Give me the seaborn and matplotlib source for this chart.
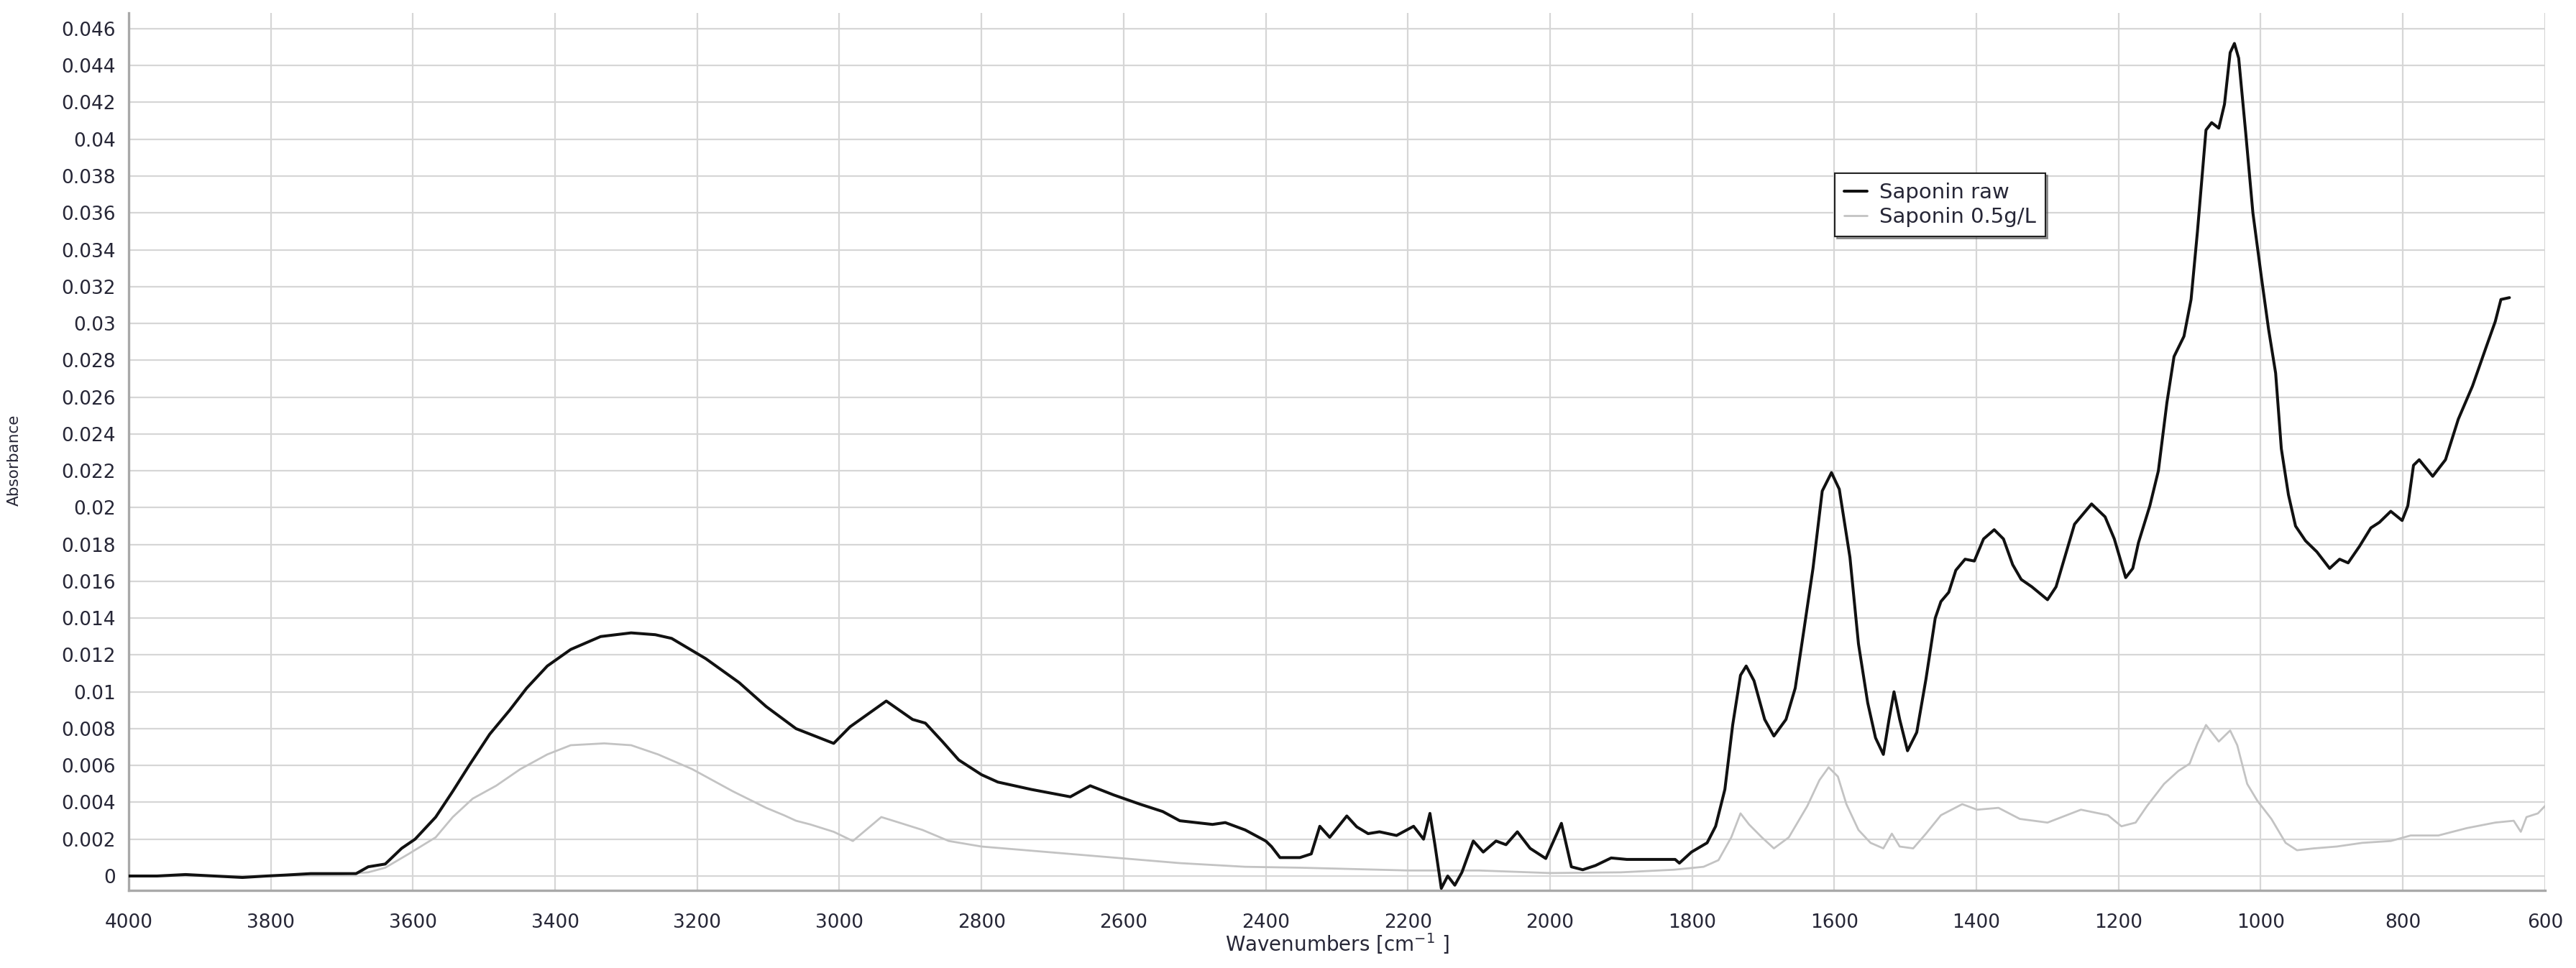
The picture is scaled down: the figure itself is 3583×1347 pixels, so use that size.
import matplotlib
matplotlib.use("Agg")
import matplotlib.pyplot as plt
from matplotlib.ticker import MultipleLocator, FuncFormatter
import seaborn as sns
import pandas as pd

# ----------------------------
# FTIR spectra
# ----------------------------
raw_wn = [4000, 3960, 3920, 3880, 3840, 3806, 3780, 3744, 3711, 3680, 3663, 3639, 3616, 3597,
          3568, 3544, 3521, 3492, 3464, 3440, 3411, 3378, 3336, 3293, 3259, 3236, 3188, 3141,
          3103, 3061, 3041, 3008, 2985, 2934, 2897, 2879, 2855, 2832, 2800, 2777, 2730, 2675,
          2647, 2614, 2577, 2545, 2521, 2475, 2457, 2429, 2400, 2392, 2380, 2352, 2336, 2324,
          2310, 2286, 2272, 2256, 2240, 2216, 2192, 2178, 2169, 2162, 2153, 2144, 2134, 2124,
          2108, 2094, 2076, 2062, 2046, 2028, 2006, 1984, 1970, 1954, 1936, 1914, 1892, 1824,
          1818, 1801, 1779, 1767, 1754, 1743, 1732, 1724, 1713, 1698, 1685, 1668, 1655, 1643,
          1630, 1617, 1604, 1593, 1578, 1566, 1553, 1542, 1531, 1523, 1516, 1508, 1497, 1484,
          1471, 1458, 1450, 1439, 1429, 1416, 1403, 1390, 1375, 1362, 1349, 1337, 1322, 1300,
          1288, 1275, 1262, 1238, 1219, 1206, 1190, 1180, 1172, 1156, 1144, 1132, 1122, 1108,
          1098, 1089, 1077, 1069, 1059, 1051, 1043, 1037, 1031, 1021, 1011, 999, 989, 979, 971,
          961, 951, 937, 921, 903, 889, 877, 861, 845, 833, 817, 801, 793, 785, 777, 758, 740,
          722, 702, 682, 670, 662, 650]
raw_abs = [0.0, 0.0, 0.00008, 0.0, -0.00008, 0.0, 0.00005, 0.00013, 0.00013, 0.00013, 0.0005,
           0.00065, 0.0015, 0.002, 0.0032, 0.0046, 0.006, 0.0077, 0.009, 0.0102, 0.0114, 0.0123,
           0.013, 0.0132, 0.0131, 0.0129, 0.0118, 0.0105, 0.0092, 0.008, 0.0077, 0.0072, 0.0081,
           0.0095, 0.0085, 0.0083, 0.0073, 0.0063, 0.0055, 0.0051, 0.0047, 0.0043, 0.0049,
           0.0044, 0.0039, 0.0035, 0.003, 0.0028, 0.0029, 0.0025, 0.0019, 0.0016, 0.001, 0.001,
           0.0012, 0.0027, 0.0021, 0.00326, 0.00267, 0.0023, 0.0024, 0.0022, 0.0027, 0.002,
           0.0034, 0.0017, -0.00067, 0.0, -0.0005, 0.0002, 0.0019, 0.0013, 0.0019, 0.0017,
           0.0024, 0.0015, 0.00095, 0.00286, 0.0005, 0.00034, 0.00057, 0.00098, 0.0009, 0.0009,
           0.0007, 0.0013, 0.0018, 0.0027, 0.0047, 0.0082, 0.0109, 0.0114, 0.0106, 0.0085,
           0.0076, 0.0085, 0.0102, 0.0133, 0.0167, 0.0209, 0.0219, 0.021, 0.0173, 0.0126,
           0.0094, 0.0075, 0.0066, 0.0085, 0.01, 0.0085, 0.0068, 0.0078, 0.0107, 0.014, 0.0149,
           0.0154, 0.0166, 0.0172, 0.0171, 0.0183, 0.0188, 0.0183, 0.0169, 0.0161, 0.0157,
           0.015, 0.0157, 0.0174, 0.0191, 0.0202, 0.0195, 0.0183, 0.0162, 0.0167, 0.0181,
           0.0201, 0.022, 0.0257, 0.0282, 0.0293, 0.0313, 0.035, 0.0405, 0.0409, 0.0406, 0.0419,
           0.0447, 0.0452, 0.0444, 0.0403, 0.036, 0.0325, 0.0297, 0.0273, 0.0232, 0.0207, 0.019,
           0.0182, 0.0176, 0.0167, 0.0172, 0.017, 0.0179, 0.0189, 0.0192, 0.0198, 0.0193,
           0.0201, 0.0223, 0.0226, 0.0217, 0.0226, 0.0248, 0.0266, 0.0288, 0.0301, 0.0313,
           0.0314]

dil_wn = [4000, 3900, 3806, 3700, 3663, 3639, 3606, 3568, 3544, 3516, 3483, 3449, 3411, 3378,
          3331, 3293, 3255, 3207, 3150, 3103, 3078, 3061, 3041, 3008, 2981, 2941, 2916, 2883,
          2846, 2800, 2707, 2614, 2521, 2429, 2351, 2300, 2200, 2100, 2000, 1900, 1826, 1784,
          1763, 1745, 1732, 1720, 1702, 1685, 1664, 1638, 1621, 1608, 1595, 1583, 1566, 1549,
          1531, 1519, 1508, 1489, 1471, 1450, 1420, 1399, 1369, 1339, 1300, 1253, 1215, 1196,
          1176, 1160, 1136, 1116, 1100, 1089, 1077, 1059, 1043, 1033, 1019, 1005, 985, 965, 949,
          925, 893, 857, 817, 789, 750, 710, 670, 644, 634, 626, 610, 600]
dil_abs = [0.0, 0.0, 0.0, 0.0001, 0.0002, 0.00045, 0.0012, 0.0021, 0.0032, 0.0042, 0.0049,
           0.0058, 0.0066, 0.0071, 0.0072, 0.0071, 0.0066, 0.0058, 0.0046, 0.0037, 0.0033,
           0.003, 0.0028, 0.0024, 0.0019, 0.0032, 0.0029, 0.0025, 0.0019, 0.0016, 0.0013, 0.001,
           0.0007, 0.0005, 0.00045, 0.0004, 0.0003, 0.0003, 0.00016, 0.0002, 0.00034, 0.0005,
           0.00086, 0.0021, 0.0034, 0.0028, 0.0021, 0.0015, 0.0021, 0.0038, 0.0052, 0.0059,
           0.0054, 0.0039, 0.0025, 0.0018, 0.0015, 0.0023, 0.0016, 0.0015, 0.0023, 0.0033,
           0.0039, 0.0036, 0.0037, 0.0031, 0.0029, 0.0036, 0.0033, 0.0027, 0.0029, 0.0038,
           0.005, 0.0057, 0.0061, 0.0072, 0.0082, 0.0073, 0.0079, 0.0071, 0.005, 0.0041, 0.0031,
           0.0018, 0.0014, 0.0015, 0.0016, 0.0018, 0.0019, 0.0022, 0.0022, 0.0026, 0.0029,
           0.003, 0.0024, 0.0032, 0.0034, 0.0038]

series_names = ["Saponin raw", "Saponin 0.5g/L"]

df = pd.concat([
    pd.DataFrame({"wn": raw_wn, "absorbance": raw_abs, "sample": series_names[0]}),
    pd.DataFrame({"wn": dil_wn, "absorbance": dil_abs, "sample": series_names[1]}),
])

sns.set_style("white")
plt.rcParams["font.family"] = ["DejaVu Sans"]
text_col = "#262636"

fig = plt.figure(figsize=(35.83, 13.47), dpi=100)
ax = fig.add_axes([0.04996, 0.0802, 0.938, 0.9065])

# gray first so black sits on top
sns.lineplot(data=df[df["sample"] == series_names[1]], x="wn", y="absorbance",
             color="#c3c3c3", linewidth=2.0, estimator=None, ax=ax,
             label=series_names[1], zorder=3)
sns.lineplot(data=df[df["sample"] == series_names[0]], x="wn", y="absorbance",
             color="#111111", linewidth=2.9, estimator=None, ax=ax,
             label=series_names[0], zorder=4)

ax.set_xlim(4000, 600)
ax.set_ylim(-0.00078, 0.04686)

ax.xaxis.set_major_locator(MultipleLocator(200))
ax.xaxis.set_minor_locator(MultipleLocator(50))
ax.yaxis.set_major_locator(MultipleLocator(0.002))
ax.yaxis.set_minor_locator(MultipleLocator(0.0004))


def fmt_y(v, pos):
    if abs(v) < 1e-9:
        return "0"
    return f"{v:.3f}".rstrip("0").rstrip(".")


ax.yaxis.set_major_formatter(FuncFormatter(fmt_y))
ax.set_yticks([i * 0.002 for i in range(24)])

ax.grid(True, which="major", color="#d6d6d6", linewidth=1.6, zorder=0)
ax.set_axisbelow(True)

for side in ["top", "right"]:
    ax.spines[side].set_visible(False)
for side in ["left", "bottom"]:
    ax.spines[side].set_color("#a9a9a9")
    ax.spines[side].set_linewidth(2.4)

ax.tick_params(axis="both", which="major", length=9, width=1.8, color="#a9a9a9",
               labelsize=19, labelcolor=text_col, pad=4)
ax.tick_params(axis="both", which="minor", length=5.5, width=1.6, color="#a9a9a9")
ax.tick_params(axis="x", which="major", pad=14)

ax.set_xlabel("Wavenumbers [cm$^{-1}$ ]", fontsize=20, color=text_col)
ax.set_ylabel("Absorbance", fontsize=15.5, color=text_col)
ax.xaxis.set_label_coords(0.5, -0.047)
ax.yaxis.set_label_coords(-0.0445, 0.49)

handles, labels = ax.get_legend_handles_labels()
order = [labels.index(n) for n in series_names]
leg = ax.legend([handles[i] for i in order], [labels[i] for i in order],
                loc="upper left", bbox_to_anchor=(0.706, 0.817), fontsize=21,
                frameon=True, fancybox=False, shadow=True, framealpha=1,
                edgecolor="#222222", handlelength=1.1, handletextpad=0.6,
                borderpad=0.45, labelspacing=0.2, borderaxespad=0)
leg.get_frame().set_linewidth(1.5)
for t in leg.get_texts():
    t.set_color(text_col)

fig.savefig("out.png", dpi=100)
